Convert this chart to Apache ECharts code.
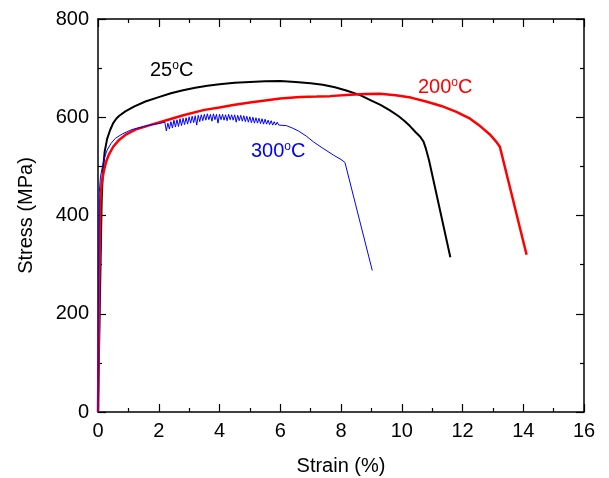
<!DOCTYPE html>
<html>
<head>
<meta charset="utf-8">
<title>Stress-strain curves</title>
<script src="https://cdn.jsdelivr.net/npm/echarts@6/dist/echarts.min.js"></script>
<style>
  html, body { margin: 0; padding: 0; background: #fff; }
  #chart { width: 609px; height: 478px; }
</style>
</head>
<body>
<div id="chart"></div>
<script>
// 25°C
const strain25 = [0, 0.06, 0.12, 0.16, 0.22, 0.3, 0.4, 0.5, 0.6, 0.7, 0.9, 1.2, 1.56, 2, 2.4, 2.8, 3.2, 3.6, 4, 4.5, 5, 5.5, 6, 6.5, 7, 7.4, 7.8, 8.2, 8.63, 9, 9.3, 9.61, 9.9, 10.1, 10.27, 10.45, 10.6, 10.72, 10.8, 10.9, 11.6]
const stress25 = [0, 220, 430, 490, 530, 556, 574, 588, 597, 603, 612, 622, 632, 641, 649, 655, 660, 664, 667, 670, 672, 673.5, 674, 672, 669, 666, 661, 654, 645, 634, 625, 614, 602, 592, 582, 570, 561, 550, 535, 512, 315]

// 200°C
const strain200 = [0, 0.04, 0.08, 0.12, 0.19, 0.27, 0.35, 0.5, 0.68, 0.9, 1.23, 1.71, 2.2, 2.81, 3.5, 4, 4.45, 5, 5.5, 6, 6.65, 7.2, 7.64, 8.3, 8.8, 9.28, 9.8, 10.3, 10.8, 11.3, 11.8, 12.25, 12.6, 12.9, 13.1, 13.23, 14.11]
const stress200 = [0, 250, 431, 465, 490, 510, 523, 540, 553, 564, 575, 584, 593, 604, 615, 620, 625, 630, 634, 638, 641, 642, 643, 646, 647.5, 648, 645, 640, 632, 623, 611, 597, 581, 565, 551, 540, 320]

// 300°C (serrated flow between ~2.2 and 6 %)
const strain300 = [0, 0.02, 0.04, 0.08, 0.13, 0.2, 0.3, 0.43, 0.57, 0.8, 1.12, 1.5, 1.78, 2.0, 2.2,
  2.25, 2.3, 2.35, 2.4, 2.45, 2.5, 2.55, 2.6, 2.65, 2.7, 2.75, 2.8, 2.85, 2.9, 2.95, 3.0,
  3.05, 3.1, 3.15, 3.2, 3.25, 3.3, 3.35, 3.4, 3.45, 3.5, 3.55, 3.6, 3.65, 3.7, 3.75, 3.8,
  3.85, 3.9, 3.95, 4.0, 4.05, 4.1, 4.15, 4.2, 4.25, 4.3, 4.35, 4.4, 4.45, 4.5, 4.55, 4.6,
  4.65, 4.7, 4.75, 4.8, 4.85, 4.9, 4.95, 5.0, 5.05, 5.1, 5.15, 5.2, 5.25, 5.3, 5.35, 5.4,
  5.45, 5.5, 5.55, 5.6, 5.65, 5.7, 5.75, 5.8, 5.85, 5.9, 5.95, 6.0,
  6.2, 6.4, 6.6, 6.85, 7.09, 7.4, 7.75, 8.0, 8.13, 9.03]
const stress300 = [0, 300, 445, 478, 495, 515, 533, 547, 557, 566, 575, 581, 585, 587, 590,
  572, 588, 576, 591, 578, 594, 580, 595, 581, 597, 583, 598, 585, 599, 586, 601,
  588, 602, 589, 603, 584, 604, 591, 605, 593, 606, 594, 607, 595, 606, 592, 607,
  595, 606, 588, 606, 595, 606, 594, 605, 593, 606, 595, 605, 594, 605, 590, 604,
  593, 604, 592, 603, 591, 602, 590, 601, 589, 600, 588, 599, 588, 598, 587, 597,
  586, 596, 586, 594, 585, 593, 584, 591, 584, 590, 584, 588,
  583, 578, 572, 562, 550, 537, 523, 514, 508, 288]

const xTicks = { min: 0, max: 16, interval: 2 }
const yTicks = { min: 0, max: 800, interval: 200 }

const pairs = (xs, ys) => xs.map((x, i) => [x, ys[i]])

const font = 'Liberation Sans, Arial, sans-serif'

const axisCommon = {
  type: 'value',
  axisLine: { onZero: false, lineStyle: { color: '#000', width: 1.5 } },
  axisTick: { inside: true, length: 8, lineStyle: { color: '#000', width: 1.2 } },
  minorTick: { show: true, splitNumber: 2, length: 4, lineStyle: { color: '#000', width: 1.2 } },
  splitLine: { show: false },
  minorSplitLine: { show: false }
}

const chart = echarts.init(document.getElementById('chart'))

// "25oC" style label with a small raised o
const degLabel = (txt, x, y, color) => ({
  type: 'text',
  x: x,
  y: y,
  style: {
    text: txt + '{s|o}{m|C}',
    fill: color,
    font: '20px ' + font,
    verticalAlign: 'middle',
    rich: {
      s: { fontSize: 12, fontFamily: font, fill: color, verticalAlign: 'top', lineHeight: 20 },
      m: { fontSize: 20, fontFamily: font, fill: color, lineHeight: 20 }
    }
  }
})

chart.setOption({
  animation: false,
  grid: { left: 98, right: 25, top: 19, bottom: 66, outerBoundsMode: 'none', containLabel: false },
  xAxis: [
    Object.assign({}, axisCommon, xTicks, {
      position: 'bottom',
      name: 'Strain (%)',
      nameLocation: 'middle',
      nameGap: 44,
      nameTextStyle: { fontSize: 20, color: '#000', fontFamily: font },
      axisLabel: { fontSize: 20, color: '#000', fontFamily: font, margin: 9 }
    }),
    Object.assign({}, axisCommon, xTicks, {
      position: 'top',
      axisLabel: { show: false }
    })
  ],
  yAxis: [
    Object.assign({}, axisCommon, yTicks, {
      position: 'left',
      name: 'Stress (MPa)',
      nameLocation: 'middle',
      nameGap: 62,
      nameTextStyle: { fontSize: 20, color: '#000', fontFamily: font },
      axisLabel: { fontSize: 20, color: '#000', fontFamily: font, margin: 9 }
    }),
    Object.assign({}, axisCommon, yTicks, {
      position: 'right',
      axisLabel: { show: false }
    })
  ],
  series: [
    {
      name: '25°C',
      type: 'line',
      data: pairs(strain25, stress25),
      showSymbol: false,
      lineStyle: { color: '#000', width: 2 }
    },
    {
      name: '200°C',
      type: 'line',
      data: pairs(strain200, stress200),
      showSymbol: false,
      lineStyle: { color: '#ff0000', width: 2.5 }
    },
    {
      name: '300°C',
      type: 'line',
      data: pairs(strain300, stress300),
      showSymbol: false,
      lineStyle: { color: '#0000ff', width: 1 }
    }
  ],
  graphic: [
    degLabel('25', 150, 70, '#000'),
    degLabel('200', 418, 87, '#ff0000'),
    degLabel('300', 251, 151, '#0000ff')
  ]
})
</script>
</body>
</html>
